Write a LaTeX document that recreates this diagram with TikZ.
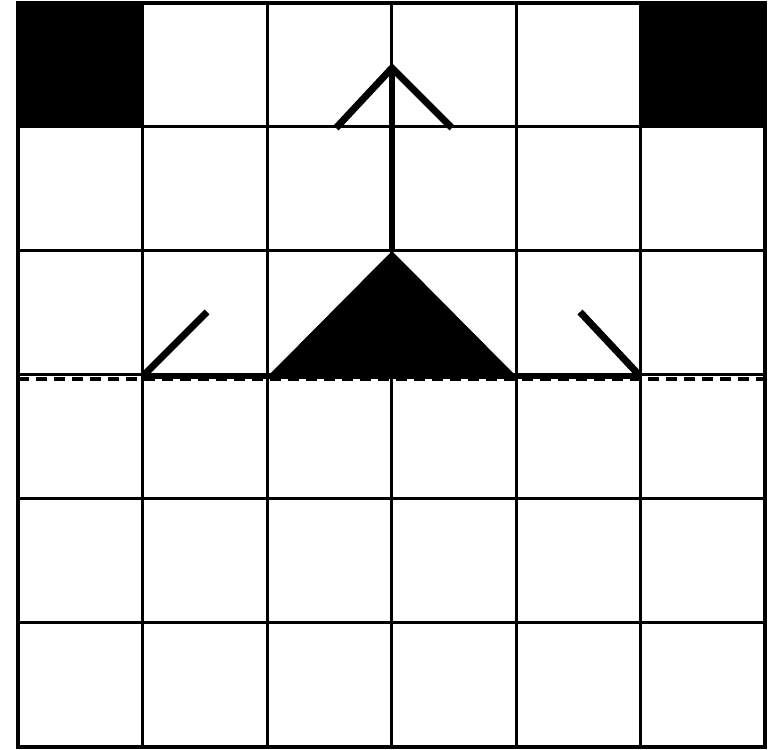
\documentclass[tikz,border=0pt]{standalone}
\begin{document}
\begin{tikzpicture}[x=1pt,y=1pt,
  gridline/.style={line width=3pt},
  thickline/.style={line width=7pt},
  dashline/.style={line width=3.5pt,dash pattern=on 11pt off 7pt}]
\useasboundingbox (0,0) rectangle (781,749);
% black cells
\fill (18,622) rectangle (143,746);
\fill (640,622) rectangle (765,746);
% grid
\foreach \i in {0,...,6}{
  \draw[gridline] ({18+124.5*\i},2) -- ({18+124.5*\i},746);
  \draw[gridline] (18,{2+124*\i}) -- (765,{2+124*\i});
}
\draw[line width=4pt] (18,2) rectangle (765,746);
% dashed line
\coordinate (dl) at (18,370);
\coordinate (dr) at (765,370);
\draw[dashline] (dl) -- (dr);
% thick base
\coordinate (bl) at (143,373);
\coordinate (br) at (640,373);
\draw[line width=5.5pt] (bl) -- (br);
% triangle
\coordinate (tl) at (268,373);
\coordinate (tr) at (516,373);
\coordinate (apex) at (392,498);
\fill (tl) -- (apex) -- (tr) -- cycle;
% arrow stem
\coordinate (tip) at (392,681);
\draw[line width=5.5pt] (apex) -- (tip);
\coordinate (al) at (336,621);
\coordinate (ar) at (452,621);
\draw[thickline] (al) -- (tip) -- (ar);
% diagonals
\coordinate (ld) at (207,437);
\coordinate (rd) at (580,437);
\draw[thickline] (bl) -- (ld);
\draw[thickline] (br) -- (rd);
\end{tikzpicture}
\end{document}
